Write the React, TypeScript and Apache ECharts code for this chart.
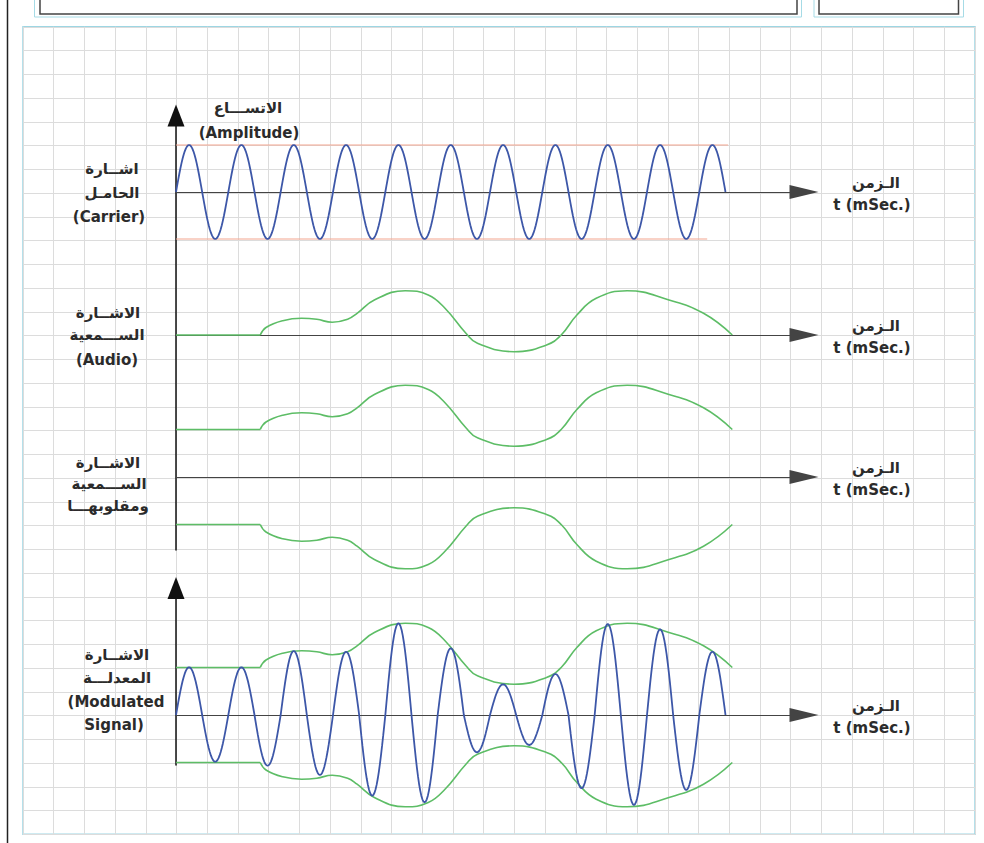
import { useEffect, useRef } from "react";
import * as echarts from "echarts";

// ---------- data (time in ms along the axes, amplitude in arbitrary units) ----------
const T_MAX = 12; // end of every time axis (arrow)
const CARRIER_CYCLES = 10.5;
const CARRIER_PEAK = 47; // constant carrier amplitude
const CARRIER_LIMIT_TOP_END = 10.55; // orange guide lines
const CARRIER_LIMIT_BOTTOM_END = 10.15;
const DC_OFFSET = 47.5; // offset that turns audio into the envelope

// audio signal (first two points: silent part)
const AUDIO_T = [0, 1.61, 1.72, 2.04, 2.4, 2.69, 2.985, 3.28, 3.46, 3.79, 4.38, 4.82, 5.14, 5.54, 5.76, 6.46, 7.08, 7.36, 7.66, 8.03, 8.62, 9.42, 10.08, 10.63];
const AUDIO_A = [0, 0, 7.5, 14.3, 16.7, 15.7, 12.7, 15.7, 21.7, 35, 44.3, 40, 26.7, 1.7, -8.3, -16.7, -10, 0, 20, 36.7, 44.3, 35, 21.7, 0];

// peak of each half cycle of the modulated signal
const MOD_PEAKS = [47.7, -46.7, 47.7, -50.7, 64, -60, 63.3, -80.7, 91.7, -87.3, 66.7, -37.3, 30.7, -30, 41, -73.3, 91, -90, 85.7, -75, 63.3];

// ---------- texts ----------
const AMPLITUDE_LABEL = ["الاتســـاع", "(Amplitude)"];
const CARRIER_LABEL = ["اشــارة", "الحامـل", "(Carrier)"];
const AUDIO_LABEL = ["الاشــارة", "الســـمعية", "(Audio)"];
const INVERTED_LABEL = ["الاشــارة", "الســـمعية", "ومقلوبهـــا"];
const MODULATED_LABEL = ["الاشــارة", "المعدلـــة", "(Modulated", "Signal)"];
const TIME_LABEL = ["الـزمن", "t (mSec.)"];

function halfCycleWave(peaks: number[]) {
  const pts: number[][] = [];
  const N = 24;
  peaks.forEach((p, k) => {
    for (let i = k === 0 ? 0 : 1; i <= N; i++) {
      const t = 0.5 * k + (0.5 * i) / N;
      pts.push([t, Math.abs(p) * Math.sin(2 * Math.PI * t)]);
    }
  });
  return pts;
}

export default function App() {
  const ref = useRef<HTMLDivElement>(null);

  useEffect(() => {
    if (!ref.current) return;
    const chart = echarts.init(ref.current, undefined, { renderer: "svg" });

    const carrierPeaks = Array.from({ length: CARRIER_CYCLES * 2 }, (_, k) => (k % 2 === 0 ? CARRIER_PEAK : -CARRIER_PEAK));
    const carrier = halfCycleWave(carrierPeaks);
    const modulated = halfCycleWave(MOD_PEAKS);
    const pts = (f: (a: number) => number) => AUDIO_T.map((t, i) => [t, f(AUDIO_A[i])]);
    const audio = pts((a) => a);
    const envUpper = pts((a) => DC_OFFSET + a);
    const envLower = pts((a) => -(DC_OFFSET + a));

    const BLUE = "#3d57a8";
    const GREEN = "#5dbd66";
    const ORANGE = "#f3a58f";
    const TXT = "#2b2b2b";
    const EN_FONT = 'bold 15px "DejaVu Sans"';
    const AR_FONT = 'bold 15px "DejaVu Sans"';

    const hidden = { show: false };
    const timeAxis = (gridIndex: number) => ({
      type: "value",
      gridIndex,
      min: 0,
      max: T_MAX,
      axisLine: {
        show: true,
        onZero: true,
        symbol: ["none", "triangle"],
        symbolSize: [14, 29],
        lineStyle: { color: "#444", width: 1.2 },
      },
      axisTick: hidden,
      axisLabel: hidden,
      splitLine: hidden,
    });
    const ampAxis = (gridIndex: number, lim: number) => ({
      type: "value",
      gridIndex,
      min: -lim,
      max: lim,
      show: false,
    });
    const vertAxis = (gridIndex: number) => ({
      type: "value",
      gridIndex,
      min: 0,
      max: 1,
      axisLine: {
        show: true,
        onZero: false,
        symbol: ["none", "triangle"],
        symbolSize: [17, 22],
        lineStyle: { color: "#111", width: 1.5 },
      },
      axisTick: hidden,
      axisLabel: hidden,
      splitLine: hidden,
    });

    const lineSeries = (axis: number, data: number[][], color: string, width: number, smooth: number | boolean = false) => ({
      type: "line",
      xAxisIndex: axis,
      yAxisIndex: axis,
      data,
      smooth,
      showSymbol: false,
      symbol: "none",
      silent: true,
      lineStyle: { color, width },
      z: 3,
    });
    // silent part drawn straight, the sound part smoothed (starts with a corner)
    const audioCurve = (axis: number, data: number[][]) => [
      lineSeries(axis, data.slice(0, 2), GREEN, 1.6),
      lineSeries(axis, data.slice(1), GREEN, 1.6, 0.45),
    ];

    const text = (t: string, x: number, y: number, font: string) => ({
      type: "text",
      x,
      y,
      silent: true,
      style: { text: t, font, fill: TXT, textAlign: "center", textVerticalAlign: "middle" },
      z: 10,
    });

    const graphics: any[] = [
      { type: "line", shape: { x1: 7.5, y1: 0, x2: 7.5, y2: 843 }, style: { stroke: "#222", lineWidth: 1.5 } },
      { type: "rect", shape: { x: 34.5, y: -5, width: 767, height: 22 }, style: { stroke: "#a6dbe6", fill: "none", lineWidth: 1 } },
      { type: "rect", shape: { x: 40, y: -5, width: 757, height: 19 }, style: { stroke: "#444", fill: "none", lineWidth: 1.5 } },
      { type: "rect", shape: { x: 814, y: -5, width: 149.5, height: 22 }, style: { stroke: "#a6dbe6", fill: "none", lineWidth: 1 } },
      { type: "rect", shape: { x: 819, y: -5, width: 139.5, height: 19 }, style: { stroke: "#444", fill: "none", lineWidth: 1.5 } },
      text(AMPLITUDE_LABEL[0], 248, 108, AR_FONT),
      text(AMPLITUDE_LABEL[1], 249, 133, EN_FONT),
      text(CARRIER_LABEL[0], 112, 169, AR_FONT),
      text(CARRIER_LABEL[1], 112, 193, AR_FONT),
      text(CARRIER_LABEL[2], 109, 217, EN_FONT),
      text(AUDIO_LABEL[0], 108, 313, AR_FONT),
      text(AUDIO_LABEL[1], 107, 335, AR_FONT),
      text(AUDIO_LABEL[2], 107, 360, EN_FONT),
      text(INVERTED_LABEL[0], 108, 463, AR_FONT),
      text(INVERTED_LABEL[1], 109, 484, AR_FONT),
      text(INVERTED_LABEL[2], 108, 506, AR_FONT),
      text(MODULATED_LABEL[0], 117, 655, AR_FONT),
      text(MODULATED_LABEL[1], 117, 678, AR_FONT),
      text(MODULATED_LABEL[2], 116, 702, EN_FONT),
      text(MODULATED_LABEL[3], 114, 725, EN_FONT),
    ];
    [192, 335, 477, 715].forEach((y) => {
      graphics.push(text(TIME_LABEL[0], 876, y - 9, AR_FONT));
      graphics.push(text(TIME_LABEL[1], 872, y + 13, EN_FONT));
    });

    chart.setOption({
      animation: false,
      backgroundColor: "#ffffff",
      grid: [
        { left: 23, top: 26.75, width: 952, height: 807.5, show: true, borderColor: "#9dd6e3", borderWidth: 1.5 },
        { left: 176, top: 115.5, width: 628, height: 434.5 },
        { left: 176, top: 588, width: 628, height: 177 },
        { left: 176, top: 132, width: 628, height: 120 },
        { left: 176, top: 275, width: 628, height: 120 },
        { left: 176, top: 377, width: 628, height: 200 },
        { left: 176, top: 615, width: 628, height: 200 },
      ],
      xAxis: [
        {
          type: "value",
          gridIndex: 0,
          min: 0,
          max: 31,
          interval: 1,
          axisLine: hidden,
          axisTick: hidden,
          axisLabel: hidden,
          splitLine: { show: true, lineStyle: { color: "#dcdcdc", width: 1 } },
        },
        { type: "value", gridIndex: 1, min: 0, max: T_MAX, show: false },
        { type: "value", gridIndex: 2, min: 0, max: T_MAX, show: false },
        timeAxis(3),
        timeAxis(4),
        timeAxis(5),
        timeAxis(6),
      ],
      yAxis: [
        {
          type: "value",
          gridIndex: 0,
          min: 0,
          max: 34,
          interval: 1,
          axisLine: hidden,
          axisTick: hidden,
          axisLabel: hidden,
          splitLine: { show: true, lineStyle: { color: "#dcdcdc", width: 1 } },
        },
        vertAxis(1),
        vertAxis(2),
        ampAxis(3, 60),
        ampAxis(4, 60),
        ampAxis(5, 100),
        ampAxis(6, 100),
      ],
      series: [
        lineSeries(3, [[0, CARRIER_PEAK], [CARRIER_LIMIT_TOP_END, CARRIER_PEAK]], ORANGE, 1.2),
        lineSeries(3, [[0, -CARRIER_PEAK], [CARRIER_LIMIT_BOTTOM_END, -CARRIER_PEAK]], ORANGE, 1.2),
        lineSeries(3, carrier, BLUE, 1.8),
        ...audioCurve(4, audio),
        ...audioCurve(5, envUpper),
        ...audioCurve(5, envLower),
        ...audioCurve(6, envUpper),
        ...audioCurve(6, envLower),
        lineSeries(6, modulated, BLUE, 1.8),
      ],
      graphic: graphics,
    });

    return () => chart.dispose();
  }, []);

  return (
    <div
      ref={ref}
      style={{ position: "fixed", left: 0, top: 0, width: 984, height: 843, background: "#fff" }}
    />
  );
}
